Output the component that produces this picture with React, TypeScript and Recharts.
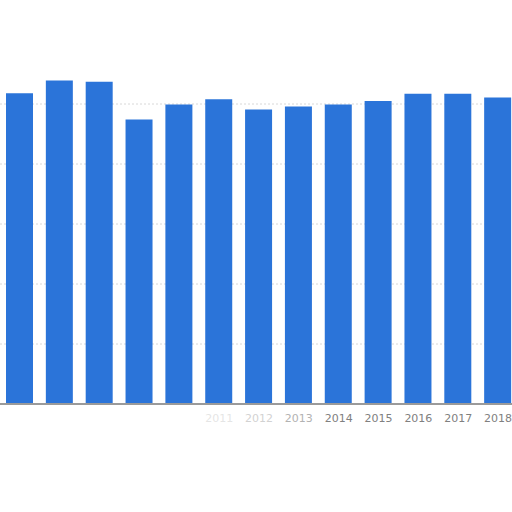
import * as React from 'react';
import { BarChart, Bar, XAxis, YAxis, CartesianGrid } from 'recharts';

// years on the category axis
const years = ['2006', '2007', '2008', '2009', '2010', '2011', '2012', '2013', '2014', '2015', '2016', '2017', '2018'];

// bar heights (one unit = one grid step)
const values = [5.18, 5.39, 5.37, 4.74, 4.99, 5.08, 4.91, 4.96, 4.99, 5.05, 5.17, 5.17, 5.11];

const gridTicks = [0, 1, 2, 3, 4, 5];
const yMax = 6.5;

// the early labels fade out in the reference
const labelOpacity = [0, 0, 0, 0, 0, 0.2, 0.35, 0.6, 1, 1, 1, 1, 1];

const data = years.map((year, i) => ({ year, value: values[i] }));

const BLUE = '#2b74d9';

const YearTick = (props: any) => {
    const { x, y, payload, index } = props;
    return (
        <text
            x={x}
            y={y + 10}
            textAnchor='middle'
            fill='#808080'
            fontSize={11}
            fontFamily='DejaVu Sans, sans-serif'
            opacity={labelOpacity[index] ?? 1}
        >
            {payload.value}
        </text>
    );
};

// grid only at the tick values, not at the top edge of the plot
const gridLines = ({ yAxis, offset }: any) => {
    if (yAxis && typeof yAxis.scale === 'function') {
        return gridTicks.slice(1).map((t) => yAxis.scale(t));
    }
    return gridTicks.slice(1).map((t) => offset.top + offset.height * (1 - t / yMax));
};

export default function App() {
    return (
        <div style={{ position: 'fixed', left: 0, top: 0, width: 512, height: 512, overflow: 'hidden', background: '#fff' }}>
            <BarChart
                width={518}
                height={512}
                data={data}
                margin={{ top: 14, right: 0, left: 0, bottom: 0 }}
            >
                <CartesianGrid
                    vertical={false}
                    stroke='#d8d8d8'
                    strokeDasharray='2 2'
                    horizontalCoordinatesGenerator={gridLines}
                />
                <XAxis
                    dataKey='year'
                    height={108}
                    axisLine={{ stroke: '#9a9a9a', strokeWidth: 2 }}
                    tickLine={false}
                    tick={<YearTick />}
                    interval={0}
                />
                <YAxis hide domain={[0, yMax]} ticks={gridTicks} />
                <Bar dataKey='value' fill={BLUE} barSize={27} isAnimationActive={false} />
            </BarChart>
        </div>
    );
}
